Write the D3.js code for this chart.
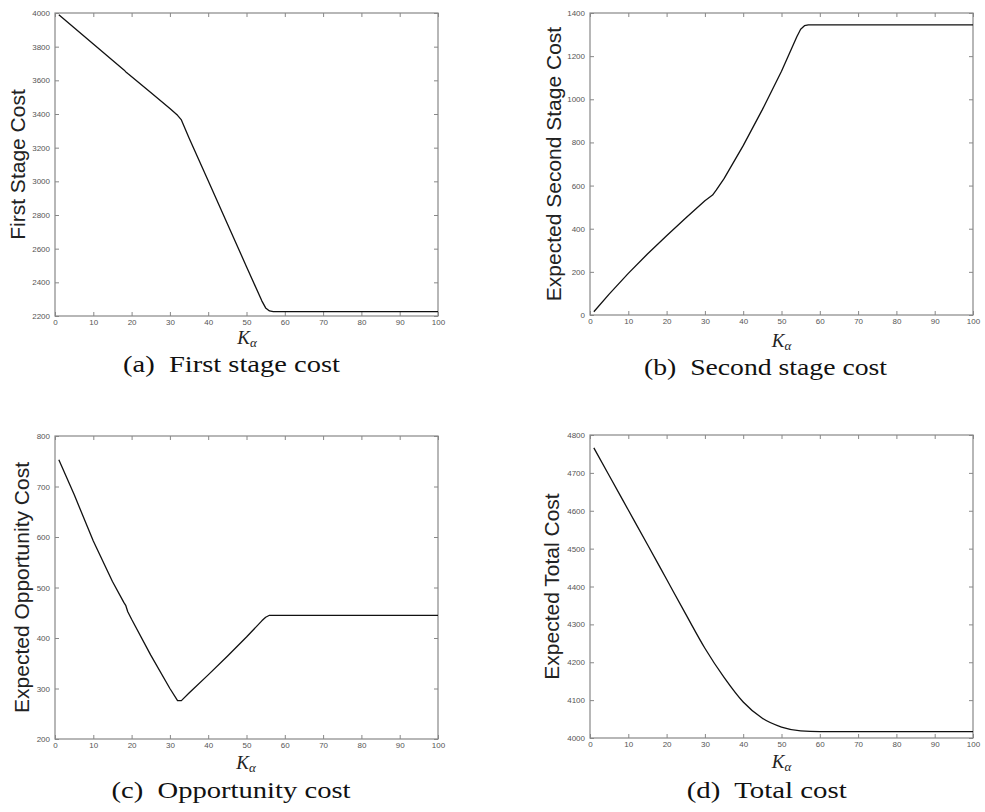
<!DOCTYPE html>
<html>
<head>
<meta charset="utf-8">
<script src="https://cdn.jsdelivr.net/npm/d3@7"></script>
<style>
  body { margin: 0; background: #fff; }
  .tick text { font-family: "Liberation Sans", Arial, sans-serif; font-size: 8px; fill: #555; }
  .tick line { stroke: #888; }
  .ytitle { font-family: "Liberation Sans", Arial, sans-serif; font-size: 21px; fill: #222; }
  .xlabel { font-family: "Liberation Serif", serif; font-style: italic; fill: #222; }
  .caption { font-family: "Liberation Serif", serif; font-size: 23px; fill: #111; }
</style>
</head>
<body>
<div id="chart"></div>
<script>
// values (K_alpha from 1 to 100)
const firstStageK = [1, 5, 10, 15, 18, 18.5, 19, 25, 30, 32, 33, 35, 40, 45, 50, 54, 55, 56, 57, 100];
const firstStageCost = [3990, 3912, 3816, 3720, 3662, 3650, 3640, 3527, 3432, 3392, 3365, 3258, 3003, 2748, 2493, 2290, 2248, 2230, 2226, 2226];

const secondStageK = [1, 5, 10, 15, 20, 25, 30, 32, 33, 35, 40, 45, 50, 54, 55, 56, 57, 100];
const secondStageCost = [15, 97, 193, 283, 367, 450, 530, 556, 580, 632, 785, 952, 1130, 1290, 1325, 1341, 1345, 1345];

const opportunityK = [1, 5, 10, 15, 18, 18.5, 19, 20, 25, 30, 32, 33, 35, 40, 45, 50, 54, 55, 56, 100];
const opportunityCost = [753, 684, 592, 512, 470, 464, 452, 437, 366, 300, 276, 276, 291, 327, 364, 402, 434, 441, 445, 445];

const totalK = [1, 5, 10, 15, 20, 25, 30, 35, 40, 45, 50, 55, 60, 100];
const totalCost = [4766, 4693, 4602, 4511, 4419, 4327, 4237, 4160, 4095, 4052, 4029, 4019, 4017, 4017];

const xTicks = [0, 10, 20, 30, 40, 50, 60, 70, 80, 90, 100];
const firstTicks = [2200, 2400, 2600, 2800, 3000, 3200, 3400, 3600, 3800, 4000];
const secondTicks = [0, 200, 400, 600, 800, 1000, 1200, 1400];
const opportunityTicks = [200, 300, 400, 500, 600, 700, 800];
const totalTicks = [4000, 4100, 4200, 4300, 4400, 4500, 4600, 4700, 4800];

const yTitles = ["First Stage Cost", "Expected Second Stage Cost", "Expected Opportunity Cost", "Expected Total Cost"];
const captions = ["(a)  First stage cost", "(b)  Second stage cost", "(c)  Opportunity cost", "(d)  Total cost"];

const panels = [
  {k: firstStageK, v: firstStageCost, ticks: firstTicks, curve: d3.curveLinear, box: [55, 438, 13, 316], titleX: 25, kY: 344, kX: 247, capX: 231.5, capY: 372, capW: 217},
  {k: secondStageK, v: secondStageCost, ticks: secondTicks, curve: d3.curveLinear, box: [590, 973, 13, 315], titleX: 561, kY: 347, kX: 781.5, capX: 765.5, capY: 375, capW: 243},
  {k: opportunityK, v: opportunityCost, ticks: opportunityTicks, curve: d3.curveLinear, box: [55, 438, 436, 739], titleX: 29, kY: 769, kX: 246, capX: 231, capY: 797.5, capW: 239},
  {k: totalK, v: totalCost, ticks: totalTicks, curve: d3.curveMonotoneX, box: [590, 973, 435, 738], titleX: 559, kY: 768, kX: 781.5, capX: 766.7, capY: 798, capW: 160}
];

const svg = d3.select("#chart")
  .append("svg")
  .attr("width", 985)
  .attr("height", 812);

panels.forEach((p, i) => {
  const [x0, x1, y0, y1] = p.box;
  const ticks = p.ticks;

  const xScale = d3.scaleLinear().domain([0, 100]).range([x0, x1]);
  const yScale = d3.scaleLinear().domain([ticks[0], ticks[ticks.length - 1]]).range([y1, y0]);

  const g = svg.append("g");

  g.append("g")
    .attr("transform", "translate(0," + y1 + ")")
    .call(d3.axisBottom(xScale).tickValues(xTicks).tickSize(-4).tickPadding(3.5).tickFormat(d3.format("d")))
    .call(a => a.select(".domain").remove());

  g.append("g")
    .attr("transform", "translate(0," + y0 + ")")
    .call(d3.axisTop(xScale).tickValues(xTicks).tickSize(-4).tickFormat(""))
    .call(a => a.select(".domain").remove());

  g.append("g")
    .attr("transform", "translate(" + x0 + ",0)")
    .call(d3.axisLeft(yScale).tickValues(ticks).tickSize(-4).tickPadding(5).tickFormat(d3.format("d")))
    .call(a => a.select(".domain").remove());

  g.append("g")
    .attr("transform", "translate(" + x1 + ",0)")
    .call(d3.axisRight(yScale).tickValues(ticks).tickSize(-4).tickFormat(""))
    .call(a => a.select(".domain").remove());

  g.append("rect")
    .attr("x", x0)
    .attr("y", y0)
    .attr("width", x1 - x0)
    .attr("height", y1 - y0)
    .attr("fill", "none")
    .attr("stroke", "#888")
    .attr("stroke-width", 1.2);

  const line = d3.line()
    .x((d) => xScale(d[0]))
    .y((d) => yScale(d[1]))
    .curve(p.curve);

  g.append("path")
    .datum(d3.zip(p.k, p.v))
    .attr("d", line)
    .attr("fill", "none")
    .attr("stroke", "#111")
    .attr("stroke-width", 1.3)
    .attr("stroke-linejoin", "round");

  g.append("text")
    .attr("class", "ytitle")
    .attr("transform", "translate(" + p.titleX + "," + ((y0 + y1) / 2) + ") rotate(-90)")
    .attr("text-anchor", "middle")
    .text(yTitles[i]);

  const kl = g.append("text")
    .attr("class", "xlabel")
    .attr("x", p.kX)
    .attr("y", p.kY)
    .attr("text-anchor", "middle");
  kl.append("tspan").attr("font-size", "19px").text("K");
  kl.append("tspan").attr("font-size", "13px").attr("dy", 3).text("α");

  g.append("text")
    .attr("class", "caption")
    .attr("x", p.capX - p.capW / 2)
    .attr("y", p.capY)
    .attr("textLength", p.capW)
    .attr("lengthAdjust", "spacingAndGlyphs")
    .style("white-space", "pre")
    .text(captions[i]);
});
</script>
</body>
</html>
